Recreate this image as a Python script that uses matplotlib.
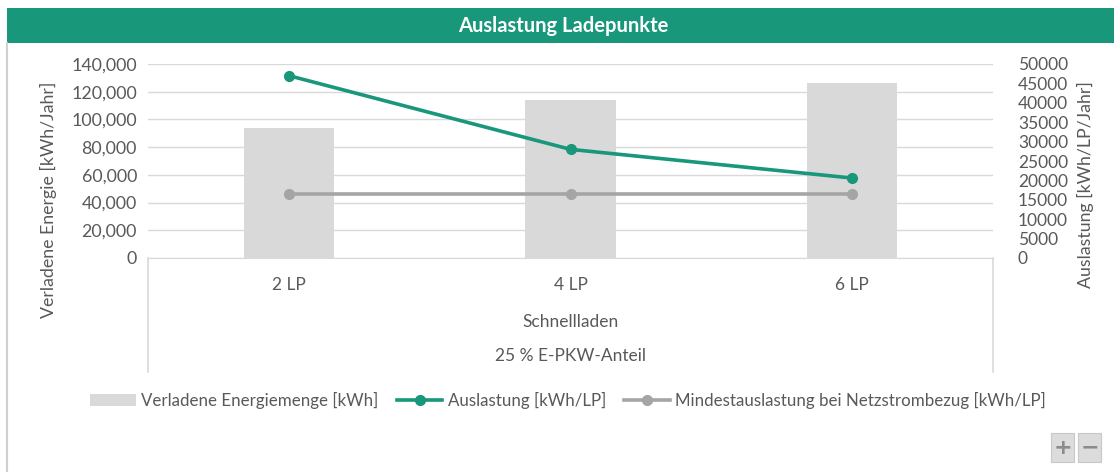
import matplotlib
matplotlib.use("Agg")
import matplotlib.pyplot as plt
from matplotlib.patches import Rectangle
from matplotlib.lines import Line2D
import numpy as np

categories = ["2 LP", "4 LP", "6 LP"]
group_label = "Schnellladen"
outer_label = "25 % E-PKW-Anteil"
energie = [94000, 114000, 126000]          # Verladene Energiemenge [kWh]
auslastung = [47000, 28000, 20600]         # Auslastung [kWh/LP]
mindest = [16500, 16500, 16500]            # Mindestauslastung bei Netzstrombezug [kWh/LP]
left_ticks = [0, 20000, 40000, 60000, 80000, 100000, 120000, 140000]
right_ticks = [0, 5000, 10000, 15000, 20000, 25000, 30000, 35000, 40000, 45000, 50000]

W, H = 1114, 472
plt.rcParams['font.family'] = ['Lato', 'DejaVu Sans']
TXT = "#595959"
GREEN = "#18977a"
GRAY = "#a5a5a5"
BAR = "#d9d9d9"
GRID = "#d9d9d9"

fig = plt.figure(figsize=(W / 100, H / 100), dpi=100)

def fx(x):
    return x / W

def fy(y):
    return 1 - y / H

# title bar
fig.patches.append(Rectangle((fx(7), fy(43)), fx(W - 7), (35) / H, transform=fig.transFigure,
                             facecolor=GREEN, edgecolor="none"))
fig.text(fx(563), fy(26), "Auslastung Ladepunkte", color="white", fontsize=14.5,
         fontweight="bold", ha="center", va="center")
# left border line
fig.add_artist(Line2D([fx(7), fx(7)], [fy(43), fy(472)], transform=fig.transFigure,
                      color="#d0d0d0", lw=1.5))

L, R, T, B = 148, 993, 64, 258
ax = fig.add_axes([fx(L), fy(B), fx(R - L), (B - T) / H])
x = np.arange(len(categories))
ax.bar(x, energie, width=0.32, color=BAR, zorder=2)
ax.set_xlim(-0.5, len(categories) - 0.5)
ax.set_ylim(0, 140000)
ax.set_yticks(left_ticks)
ax.set_yticklabels([f"{v:,}" for v in left_ticks])
ax.grid(axis="y", color=GRID, lw=1, zorder=0)
ax.set_axisbelow(True)
for s in ["top", "right", "left"]:
    ax.spines[s].set_visible(False)
ax.spines["bottom"].set_color(GRID)
ax.tick_params(axis="y", length=0, colors=TXT, labelsize=12.8, pad=8)
ax.tick_params(axis="x", length=0, colors=TXT, labelsize=12.5, pad=14)
ax.set_xticks(x)
ax.set_xticklabels(categories)
ax.set_ylabel("Verladene Energie [kWh/Jahr]", color=TXT, fontsize=12.8)
ax.yaxis.set_label_coords(-(L - 57) / (R - L), 0.30, transform=ax.transAxes)

ax2 = ax.twinx()
ax2.set_ylim(0, 50000)
ax2.set_yticks(right_ticks)
ax2.set_yticklabels([str(v) for v in right_ticks])
for s in ["top", "right", "left", "bottom"]:
    ax2.spines[s].set_visible(False)
ax2.tick_params(axis="y", length=0, colors=TXT, labelsize=12.5, pad=18)
ax2.plot(x, auslastung, color=GREEN, lw=2.6, marker="o", ms=7, zorder=4)
ax2.plot(x, mindest, color=GRAY, lw=2.6, marker="o", ms=7, zorder=3)
ax2.set_ylabel("Auslastung [kWh/LP/Jahr]", color=TXT, fontsize=12.8)
ax2.yaxis.set_label_coords((1077 - L) / (R - L), 0.38, transform=ax2.transAxes)

# multi-level category box
for xp in [L, R]:
    fig.add_artist(Line2D([fx(xp), fx(xp)], [fy(B), fy(372)], transform=fig.transFigure,
                          color=GRID, lw=1.2))
fig.text(fx((L + R) / 2), fy(322), group_label, color=TXT, fontsize=12.5, ha="center", va="center")
fig.text(fx((L + R) / 2), fy(356), outer_label, color=TXT, fontsize=12.5, ha="center", va="center")

# legend
handles = [Rectangle((0, 0), 1, 1, facecolor=BAR, edgecolor="none"),
           Line2D([], [], color=GREEN, lw=2.6, marker="o", ms=7),
           Line2D([], [], color=GRAY, lw=2.6, marker="o", ms=7)]
labels = ["Verladene Energiemenge [kWh]", "Auslastung [kWh/LP]",
          "Mindestauslastung bei Netzstrombezug [kWh/LP]"]
fig.legend(handles, labels, loc="center", bbox_to_anchor=(fx(568), fy(400)), ncol=3,
           frameon=False, fontsize=12.2, labelcolor=TXT, handlelength=2.7,
           handletextpad=0.3, columnspacing=1.1, borderaxespad=0)

# +/- buttons
for x0, sym in [(1051, "+"), (1078, "\u2212")]:
    fig.patches.append(Rectangle((fx(x0), fy(462)), fx(23), 29 / H, transform=fig.transFigure,
                                 facecolor="#dcdcdc", edgecolor="#c8c8c8", lw=0.8))
    fig.text(fx(x0 + 11.5), fy(447.5), sym, color="#8c8c8c", fontsize=16, fontweight="bold",
             ha="center", va="center", family="DejaVu Sans")

fig.savefig("out.png", dpi=100)
